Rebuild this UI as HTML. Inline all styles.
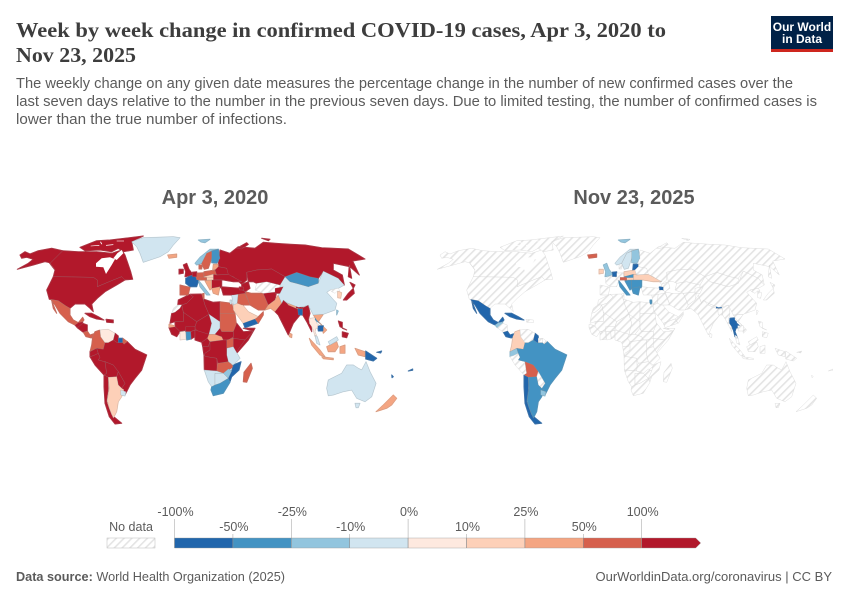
<!DOCTYPE html>
<html lang="en">
<head>
<meta charset="utf-8">
<title>Week by week change in confirmed COVID-19 cases</title>
<style>
html,body{margin:0;padding:0;background:#fff;width:850px;height:600px;overflow:hidden}
svg{display:block;font-family:"Liberation Sans",sans-serif}
</style>
</head>
<body>
<svg id="chart" width="850" height="600" viewBox="0 0 850 600">
<defs>
<pattern id="hatch" patternUnits="userSpaceOnUse" width="5.5" height="5.5" patternTransform="rotate(-45)">
<rect width="5.5" height="5.5" fill="#fff"/>
<rect width="5.5" height="1.6" fill="#e4e4e4"/>
</pattern>
</defs>
<g>
<text x="16" y="37" font-family="'Liberation Serif',serif" font-weight="700" font-size="21" fill="#3d3d3d" textLength="650" lengthAdjust="spacingAndGlyphs">Week by week change in confirmed COVID-19 cases, Apr 3, 2020 to</text>
<text x="16" y="62" font-family="'Liberation Serif',serif" font-weight="700" font-size="21" fill="#3d3d3d" textLength="120" lengthAdjust="spacingAndGlyphs">Nov 23, 2025</text>
<text x="16" y="88" font-size="14.5" fill="#5b5b5b" textLength="777" lengthAdjust="spacingAndGlyphs">The weekly change on any given date measures the percentage change in the number of new confirmed cases over the</text>
<text x="16" y="106" font-size="14.5" fill="#5b5b5b" textLength="801" lengthAdjust="spacingAndGlyphs">last seven days relative to the number in the previous seven days. Due to limited testing, the number of confirmed cases is</text>
<text x="16" y="124" font-size="14.5" fill="#5b5b5b" textLength="271" lengthAdjust="spacingAndGlyphs">lower than the true number of infections.</text>
</g>
<g>
<rect x="771" y="16" width="62" height="36" fill="#002147"/>
<rect x="771" y="49" width="62" height="3" fill="#ce261e"/>
<text x="802" y="31" text-anchor="middle" font-size="12" font-weight="700" fill="#fff">Our World</text>
<text x="802" y="43" text-anchor="middle" font-size="12" font-weight="700" fill="#fff">in Data</text>
</g>
<text x="215" y="204" text-anchor="middle" font-size="20" font-weight="700" fill="#5b5b5b">Apr 3, 2020</text>
<text x="634" y="204" text-anchor="middle" font-size="20" font-weight="700" fill="#5b5b5b">Nov 23, 2025</text>
<g id="map-left"></g>
<g id="map-right"></g>
<g id="legend"></g>
<g>
<text x="16" y="581" font-size="13" fill="#5b5b5b" textLength="269" lengthAdjust="spacingAndGlyphs"><tspan font-weight="700">Data source:</tspan> World Health Organization (2025)</text>
<text x="832" y="581" text-anchor="end" font-size="13" fill="#5b5b5b">OurWorldinData.org/coronavirus | CC BY</text>
</g>
</svg>
<script>
// Legend scale
const legendBreaks = [-100, -50, -25, -10, 0, 10, 25, 50, 100];
const legendColors = ["#2166ac", "#4393c3", "#92c5de", "#d1e5f0", "#fee9df", "#fdd0b8", "#f4a582", "#d6604d", "#b2182b"];
const legendLabels = ["-100%", "-50%", "-25%", "-10%", "0%", "10%", "25%", "50%", "100%"];

// Countries and their weekly change (%) on each date; null = no data
const countries = [
"canada","usa","mexico","guatemala","nicaragua","costa-rica","cuba","hispaniola",
"colombia","venezuela","guyana","suriname","french-guiana","ecuador","peru","brazil","bolivia","paraguay","chile","argentina","uruguay",
"greenland","iceland","svalbard",
"morocco","western-sahara","algeria","tunisia","libya","egypt","mauritania","mali","niger","chad","sudan","car","south-sudan","ethiopia","somalia","kenya","uganda","tanzania",
"senegal","guinea","cote-divoire","burkina-faso","ghana","benin","nigeria","cameroon","gabon-congo","drc","angola","zambia","namibia","botswana","zimbabwe","mozambique","south-africa","madagascar",
"saudi-arabia","yemen","oman","syria-jordan","israel","iraq","iran","afghanistan","pakistan","central-asia","india","nepal","bhutan","bangladesh","myanmar","thailand",
"laos","vietnam","cambodia","malaysia","sumatra","java","kalimantan","sarawak","sulawesi","west-papua","papua-new-guinea","philippines","sri-lanka","pacific-islands","taiwan",
"china","mongolia","north-korea","south-korea","japan","russia","kazakhstan","kyrgyzstan","turkey","azerbaijan",
"uk","ireland","france","spain","italy","germany","poland","norway","sweden","finland","baltics","belarus","ukraine","czechia","hungary","austria","romania","balkans","greece","denmark","benelux","georgia",
"australia","tasmania","new-zealand"
];
const changeApr2020 = [
150,150,70,150,150,70,150,150,
70,5,150,-70,70,150,150,150,150,150,150,15,-5,
-5,35,-15,
150,null,150,70,150,70,150,150,150,-5,70,35,150,150,150,150,70,-5,
35,150,5,150,-35,150,150,150,150,150,150,70,-5,-5,-15,-70,-35,70,
15,-70,70,-5,-5,70,70,150,35,null,150,35,150,-70,150,5,
-35,35,-70,-5,35,35,35,-5,35,35,-70,150,35,-70,-15,
-5,-35,null,15,150,150,150,150,150,150,
150,150,-70,70,-15,70,70,-15,70,-35,35,150,150,15,15,70,150,35,35,70,150,150,
-5,-5,35
];
const changeNov2025 = [
null,null,-70,-15,null,-70,-70,null,
15,null,-70,null,null,-15,null,-35,70,null,-70,-35,-15,
null,70,-15,
null,null,null,null,null,null,null,null,null,null,null,null,null,null,null,null,null,null,
null,null,null,null,null,null,null,null,null,null,null,null,null,null,null,null,null,null,
null,null,null,null,-35,null,null,null,null,null,null,null,-70,null,null,-70,
null,null,null,null,null,null,null,null,null,null,null,null,null,null,null,
null,null,null,null,null,null,null,null,null,null,
-15,15,null,null,-35,null,15,-5,-5,-15,-70,null,15,-35,15,70,-35,-35,-35,null,-70,-70,
null,null,null
];

// Hand-traced country outlines (geometry only, in a 1275x630 map space); "|" separates sub-shapes
const countryShapes = {
"canada":"188,77 235,80 290,80 335,85 365,75 375,90 392,140 398,163 370,165 365,155 340,165 292,185 292,165 280,157 160,155 165,135 150,115|240,67 290,47 330,45 430,33 395,50 400,75 370,80 355,70 335,80 300,75 255,77",
"usa":"160,155 280,157 292,165 292,185 340,165 365,155 375,165 350,180 315,200 292,220 275,237 280,260 270,250 255,237 225,237 210,250 198,243 175,227 148,223 140,195 155,165|60,90 75,80 90,87 115,77 155,70 188,77 150,115 165,135 148,113 135,110 100,120 52,133 85,115 100,103 80,97 65,100",
"mexico":"152,223 175,227 198,243 210,250 210,270 220,285 235,293 248,277 252,285 240,300 225,300 205,290 180,265 165,240|155,227 170,265 160,250",
"guatemala":"225,300 235,293 248,290 248,300 240,305 232,308",
"nicaragua":"232,308 248,295 262,300 262,318 250,322",
"costa-rica":"250,322 262,318 270,330 285,325 290,340 270,338 258,335",
"cuba":"255,265 275,265 295,275 312,285 290,282 270,275",
"hispaniola":"318,283 340,285 340,293 320,292",
"colombia":"285,320 300,315 302,335 315,353 310,373 290,370 270,380 275,360 278,335",
"venezuela":"300,315 325,313 345,325 340,345 325,353 315,353 302,335",
"guyana":"345,325 355,333 355,353 352,353 340,345",
"suriname":"355,340 368,340 368,353 355,353",
"french-guiana":"368,340 382,350 372,358 368,353",
"ecuador":"270,380 290,370 295,385 280,392 270,395",
"peru":"270,395 280,392 295,385 300,397 295,405 315,410 320,445 312,450 285,420",
"brazil":"315,353 325,353 340,345 352,353 368,353 372,358 382,350 405,373 440,390 425,435 405,460 390,480 375,510 365,490 375,475 355,440 340,420 315,410 295,405 300,397 295,385 290,370 310,373",
"bolivia":"315,410 340,420 355,440 350,455 325,457 312,450 320,445",
"paraguay":"350,455 355,440 375,475 365,490 355,480",
"chile":"312,450 325,457 325,495 320,530 335,570 365,595 345,597 328,575 315,535 312,485",
"argentina":"325,457 350,455 355,480 365,490 372,494 365,515 355,530 350,560 340,580 328,550 322,525 328,490",
"uruguay":"362,495 378,500 375,513 362,510",
"greenland":"395,50 430,38 520,35 540,38 520,60 505,80 480,95 430,112 420,85 410,65",
"iceland":"503,90 530,87 530,97 507,100",
"svalbard":"595,45 630,43 615,53 603,51",
"morocco":"535,225 570,208 580,215 560,235 545,240 533,240",
"western-sahara":"515,265 520,250 533,240 545,240 540,250 525,262",
"algeria":"570,208 605,207 610,222 615,240 627,268 590,290 550,262 545,240 560,235 580,215",
"tunisia":"605,207 612,205 612,222 610,225",
"libya":"610,222 640,232 660,230 660,290 645,285 627,268 615,240",
"egypt":"660,230 695,235 705,265 660,265",
"mauritania":"510,295 515,265 525,262 540,250 545,240 550,262 550,290 525,290",
"mali":"550,262 590,290 585,305 560,315 540,320 525,305 525,290 550,290",
"niger":"590,290 627,268 635,295 627,328 600,325 585,310 585,305",
"chad":"627,268 660,290 660,310 645,328 627,328 635,295",
"sudan":"660,265 705,265 710,305 700,320 665,320 660,310 660,290",
"car":"617,340 627,328 645,328 665,335 670,345 630,350 623,350",
"south-sudan":"660,310 665,320 700,320 700,335 685,345 670,345 665,335 645,328",
"ethiopia":"700,320 710,295 730,320 760,318 735,345 700,340",
"somalia":"730,310 765,310 745,345 710,385 705,375 735,345 760,318",
"kenya":"700,340 735,345 717,370 700,395 700,365 685,345",
"uganda":"680,345 700,340 700,365 680,370",
"tanzania":"680,370 700,365 720,400 700,420 685,410 680,390",
"senegal":"507,298 525,302 525,310 507,308",
"guinea":"507,308 525,305 540,320 530,335 515,328",
"cote-divoire":"540,320 557,320 558,343 540,345",
"burkina-faso":"557,305 585,305 585,315 570,320 557,320",
"ghana":"558,320 572,320 574,342 560,345",
"benin":"572,320 585,315 585,335 574,342",
"nigeria":"585,315 627,328 622,340 605,352 585,345",
"cameroon":"605,352 622,340 630,350 625,365 608,365",
"gabon-congo":"608,365 625,365 630,350 640,350 630,375 615,385 612,392",
"drc":"630,350 670,345 680,345 680,390 685,410 655,415 650,400 620,395 612,392 615,385 630,375",
"angola":"612,392 620,395 650,400 652,438 613,435",
"zambia":"652,420 655,415 685,410 700,425 685,435 670,445 650,438",
"namibia":"613,435 650,438 670,445 645,445 645,480 635,485 625,470",
"botswana":"645,445 670,445 685,460 660,475 645,480",
"zimbabwe":"670,445 685,432 697,438 685,460",
"mozambique":"700,420 723,410 717,435 695,455 690,470 685,460 695,438",
"south-africa":"635,485 645,480 660,475 685,460 690,472 670,505 640,512 633,495",
"madagascar":"753,415 757,430 740,472 730,470 732,442",
"saudi-arabia":"700,235 720,230 745,260 775,275 765,282 730,295 700,255",
"yemen":"730,295 765,282 773,295 735,308",
"oman":"765,282 775,275 790,260 790,270 775,295",
"syria-jordan":"695,210 715,207 712,235 700,240",
"israel":"690,225 695,225 695,238 690,238",
"iraq":"715,205 735,205 750,240 725,240 712,235",
"iran":"735,200 755,205 790,205 805,240 795,255 775,255 750,240",
"afghanistan":"790,205 830,200 825,225 805,240",
"pakistan":"805,240 825,225 835,210 845,235 825,260 812,250 795,255",
"central-asia":"770,175 800,170 840,180 840,205 830,200 790,205 765,195",
"india":"845,235 850,225 865,240 895,252 910,245 900,270 880,295 865,330 850,300 835,270 825,260",
"nepal":"865,235 895,247 893,252 865,240",
"bhutan":"888,243 905,245 905,250 888,250",
"bangladesh":"893,252 908,252 908,270 895,270",
"myanmar":"908,250 925,240 930,265 925,285 935,305 935,320 920,290 908,270",
"thailand":"930,280 945,278 950,295 962,305 948,310 945,320 953,340 945,335 940,315 935,305 928,295",
"laos":"945,270 960,272 955,290 970,305 960,295 945,285",
"vietnam":"940,270 970,268 955,290 980,315 970,325 965,300 950,285",
"cambodia":"953,302 970,302 970,318 955,318",
"malaysia":"945,330 952,335 960,360 950,355",
"sumatra":"928,340 960,375 975,395 960,390 935,360",
"java":"965,395 1000,400 1000,404 970,401",
"kalimantan":"980,365 1010,350 1015,365 1005,380 985,380",
"sarawak":"985,350 1010,335 1015,345 990,360",
"sulawesi":"1020,365 1035,360 1035,385 1020,385",
"west-papua":"1065,370 1095,380 1095,395 1075,390",
"papua-new-guinea":"1097,378 1130,400 1120,408 1097,402",
"philippines":"1015,288 1027,292 1027,310 1040,315 1020,305|1027,320 1045,325 1040,338 1027,335",
"sri-lanka":"870,325 876,328 875,338 868,335",
"pacific-islands":"1130,382 1145,378 1142,384|1175,450 1180,455 1176,458|1225,438 1238,432 1238,436",
"taiwan":"1010,255 1015,258 1010,270",
"china":"840,180 855,155 870,170 925,185 955,175 970,138 1015,160 1033,180 1015,190 990,195 980,202 1010,235 1005,255 970,268 940,270 925,240 910,245 895,247 865,235 850,225 845,235 835,210 840,205",
"mongolia":"855,155 890,142 930,155 955,160 955,175 925,185 890,175 870,170",
"north-korea":"990,195 1015,190 1020,198 1012,198 1005,205 995,200",
"south-korea":"1013,198 1025,203 1022,220 1013,218",
"japan":"1050,172 1065,180 1060,190|1060,190 1063,205 1040,225 1030,225 1045,205",
"russia":"660,75 690,85 715,65 765,70 790,52 825,55 870,58 915,60 965,68 1045,72 1095,102 1058,108 1078,150 1050,125 1000,115 1000,135 1027,150 1033,180 1015,160 970,138 955,160 930,155 890,142 855,155 815,132 770,135 740,142 740,165 725,178 700,155 680,150 680,130 655,125 655,115|710,70 740,53 745,58 725,72|785,40 810,43 805,47|1048,120 1055,160 1045,155",
"kazakhstan":"740,142 770,135 815,132 855,155 840,180 800,170 770,175 760,170 745,170",
"kyrgyzstan":"825,190 850,185 840,205 825,205",
"turkey":"663,185 720,190 735,200 735,205 700,210 670,210",
"azerbaijan":"725,178 745,170 750,190 735,200 725,190",
"uk":"550,120 560,115 567,133 580,150 555,155 557,140",
"ireland":"537,133 550,133 550,145 537,147",
"france":"557,160 577,150 597,163 590,185 570,185 557,175",
"spain":"540,180 570,187 565,210 540,210",
"italy":"595,165 607,180 630,210 620,210 600,185",
"germany":"585,145 610,143 613,165 590,165",
"poland":"612,140 645,135 650,150 640,148 612,155",
"norway":"585,115 600,97 630,73 655,73 635,77 620,85 605,115 590,120",
"sweden":"605,115 620,85 640,77 635,100 625,130 613,133",
"finland":"635,77 655,73 660,100 650,115 635,113",
"baltics":"640,118 655,118 655,132 638,135",
"belarus":"645,135 655,125 680,130 685,148 650,150",
"ukraine":"640,148 650,150 685,148 725,170 700,170 670,165 640,165",
"czechia":"612,155 640,148 640,158 612,160",
"hungary":"620,158 640,158 640,165 620,165",
"austria":"600,157 620,157 620,165 600,165",
"romania":"635,165 665,165 665,188 635,190",
"balkans":"615,168 635,165 635,190 630,195",
"greece":"635,190 660,185 655,210 640,205",
"denmark":"597,120 607,120 605,132 597,132",
"benelux":"577,142 590,140 590,155 577,155",
"georgia":"718,186 730,186 730,195 718,195",
"australia":"980,490 985,465 1025,445 1040,420 1060,420 1075,430 1085,435 1098,410 1110,440 1128,475 1115,515 1095,530 1070,520 1055,495 1030,500 1000,510 985,512",
"tasmania":"1065,535 1080,535 1075,548 1068,548",
"new-zealand":"1180,510 1190,520 1175,540 1160,550 1128,560 1150,540"
};
// Water cut out of land: Hudson Bay, Hudson Strait and Arctic channels
const waterShapes = [
"288,115 305,100 330,97 345,103 335,120 318,147 310,127 288,125",
"340,100 352,85 365,75 370,85 350,105",
"272,62 298,60 298,62 272,64",
"318,60 340,58 340,60 318,62",
"300,50 303,50 307,58 304,58",
"350,47 372,47 372,49 350,49"
];

// Axis functions
const SVG_NS = "http://www.w3.org/2000/svg";
function mapX(x, offset) { return offset + x / 3; }
function mapY(y) { return 225 + y / 3; }
function legendX(value) {
  return 174.5 + legendBreaks.indexOf(value) * 58.4;
}
function colorFor(value) {
  if (value === null || value === undefined) return "url(#hatch)";
  for (let i = 1; i < legendBreaks.length; i++) {
    if (value < legendBreaks[i]) return legendColors[i - 1];
  }
  return legendColors[legendColors.length - 1];
}
function shapePath(shape, offset) {
  return shape.split("|").map(function (part) {
    const pts = part.split(" ").map(function (p) {
      const c = p.split(",");
      return mapX(+c[0], offset).toFixed(1) + " " + mapY(+c[1]).toFixed(1);
    });
    return "M" + pts.join("L") + "Z";
  }).join("");
}
function drawMap(groupId, values, offset) {
  const g = document.getElementById(groupId);
  // Same-colour underlay closes hairline gaps between neighbouring outlines
  countries.forEach(function (name, i) {
    if (values[i] === null) return;
    const under = document.createElementNS(SVG_NS, "path");
    under.setAttribute("d", shapePath(countryShapes[name], offset));
    under.setAttribute("fill", colorFor(values[i]));
    under.setAttribute("stroke", colorFor(values[i]));
    under.setAttribute("stroke-width", "1");
    under.setAttribute("stroke-linejoin", "round");
    
    
    g.appendChild(under);
  });
  countries.forEach(function (name, i) {
    const el = document.createElementNS(SVG_NS, "path");
    el.setAttribute("d", shapePath(countryShapes[name], offset));
    el.setAttribute("fill", colorFor(values[i]));
    el.setAttribute("stroke", values[i] === null ? "#d6d6d6" : "#8f8f8f");
    el.setAttribute("stroke-width", "0.4");
    el.setAttribute("stroke-opacity", values[i] === null ? "1" : "0.55");
    
    
    g.appendChild(el);
  });
  waterShapes.forEach(function (shape) {
    const w = document.createElementNS(SVG_NS, "path");
    w.setAttribute("d", shapePath(shape, offset));
    w.setAttribute("fill", "#fff");
    
    
    g.appendChild(w);
  });
}
drawMap("map-left", changeApr2020, 0);
drawMap("map-right", changeNov2025, 420);

function drawLegend() {
  const g = document.getElementById("legend");
  const y0 = 538, y1 = 548;

  const nd = document.createElementNS(SVG_NS, "rect");
  nd.setAttribute("x", 107); nd.setAttribute("y", y0);
  nd.setAttribute("width", 48); nd.setAttribute("height", y1 - y0);
  nd.setAttribute("fill", "url(#hatch)");
  nd.setAttribute("stroke", "#bdbdbd"); nd.setAttribute("stroke-width", "0.5");
  
  
  g.appendChild(nd);

  const ndl = document.createElementNS(SVG_NS, "text");
  ndl.setAttribute("x", 131); ndl.setAttribute("y", 531);
  ndl.setAttribute("text-anchor", "middle");
  ndl.setAttribute("font-size", "12.5"); ndl.setAttribute("fill", "#5b5b5b");
  ndl.textContent = "No data";
  
  
  g.appendChild(ndl);

  legendColors.forEach(function (color, i) {
    const x = legendX(legendBreaks[i]);
    const seg = document.createElementNS(SVG_NS, "path");
    if (i < legendColors.length - 1) {
      const xe = legendX(legendBreaks[i + 1]);
      seg.setAttribute("d", "M" + x + " " + y0 + "H" + xe + "V" + y1 + "H" + x + "Z");
    } else {
      const xe = x + 54;
      seg.setAttribute("d", "M" + x + " " + y0 + "H" + xe + "L" + (xe + 5) + " " + (y0 + 5) + "L" + xe + " " + y1 + "H" + x + "Z");
    }
    seg.setAttribute("fill", color);
    seg.setAttribute("stroke", "#9a9a9a"); seg.setAttribute("stroke-width", "0.4");
    
    
    g.appendChild(seg);
  });

  legendLabels.forEach(function (label, i) {
    const x = legendX(legendBreaks[i]);
    const upper = i % 2 === 0;
    const tick = document.createElementNS(SVG_NS, "line");
    tick.setAttribute("x1", x); tick.setAttribute("x2", x);
    tick.setAttribute("y1", upper ? 519 : 534); tick.setAttribute("y2", y1);
    tick.setAttribute("stroke", "#8a8a8a"); tick.setAttribute("stroke-width", "0.6");
    tick.setAttribute("stroke-opacity", "0.7");
    
    
    g.appendChild(tick);

    const t = document.createElementNS(SVG_NS, "text");
    t.setAttribute("x", x + 1); t.setAttribute("y", upper ? 516 : 531);
    t.setAttribute("text-anchor", "middle");
    t.setAttribute("font-size", "12.5"); t.setAttribute("fill", "#5b5b5b");
    t.textContent = label;
    
    
    g.appendChild(t);
  });
}
drawLegend();
</script>
</body>
</html>
